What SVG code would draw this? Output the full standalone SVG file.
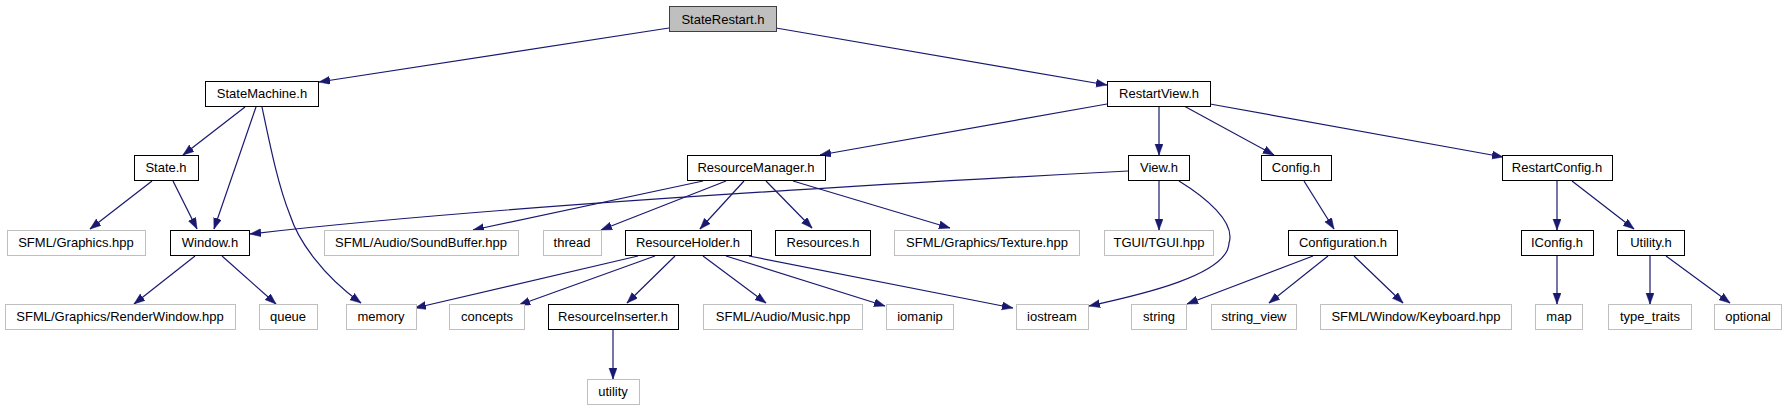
<svg xmlns="http://www.w3.org/2000/svg" width="1787" height="411" viewBox="0 0 1787 411">
<style>
.n rect{fill:#fff;stroke:#000;stroke-width:1}
.s rect{fill:#fff;stroke:#bfbfbf;stroke-width:1}
.r rect{fill:#bfbfbf;stroke:#404040;stroke-width:1}
text{font-family:"Liberation Sans",Arial,sans-serif;font-size:13px;fill:#000;text-anchor:middle}
#edges path{fill:none;stroke:#191970;stroke-width:1.2;marker-end:url(#arr)}
</style>
<defs>
<marker id="arr" markerUnits="userSpaceOnUse" markerWidth="12" markerHeight="9" refX="11" refY="4" orient="auto">
<path d="M0,0 L11,4 L0,8 z" fill="#191970" stroke="#191970" stroke-width="0.5"/>
</marker>
</defs>
<rect width="1787" height="411" fill="#fff"/>
<g id="edges">
<path d="M669,28 L319,82"/>
<path d="M776,28 L1107,85"/>
<path d="M245,107 L183,155"/>
<path d="M256,107 L214,229"/>
<path d="M262,107 C270,145 278,185 290,215 C298,240 322,275 361,303"/>
<path d="M152,181 L90,229"/>
<path d="M173,181 L197,229"/>
<path d="M1128,171 C900,183 500,205 250,234"/>
<path d="M703,181 L473,230"/>
<path d="M726,181 L601,230"/>
<path d="M744,181 L700,229"/>
<path d="M766,181 L812,228"/>
<path d="M793,181 L950,228"/>
<path d="M1107,104 L820,155"/>
<path d="M1159,106 L1159,155"/>
<path d="M1184,106 L1274,155"/>
<path d="M1210,104 L1503,157"/>
<path d="M1159,181 L1159,230"/>
<path d="M1179,181 C1205,197 1236,222 1229,243 C1228,275 1140,295 1089,306"/>
<path d="M638,256 L415,308"/>
<path d="M655,256 L519,305"/>
<path d="M675,256 L627,303"/>
<path d="M703,256 L766,303"/>
<path d="M726,256 L885,306"/>
<path d="M749,256 L1013,308"/>
<path d="M613,330 L613,379"/>
<path d="M195,256 L134,304"/>
<path d="M222,256 L276,304"/>
<path d="M1304,181 L1334,229"/>
<path d="M1557,181 L1557,230"/>
<path d="M1572,181 L1634,229"/>
<path d="M1313,256 L1187,304"/>
<path d="M1328,256 L1269,303"/>
<path d="M1354,256 L1403,303"/>
<path d="M1557,256 L1557,304"/>
<path d="M1650,256 L1650,304"/>
<path d="M1666,256 L1730,303"/>
</g>
<g id="StateRestart" class="r"><rect x="669.5" y="6.5" width="107" height="25"/><text x="723" y="24">StateRestart.h</text></g>
<g id="StateMachine" class="n"><rect x="205.5" y="81.5" width="113" height="25"/><text x="262" y="98">StateMachine.h</text></g>
<g id="RestartView" class="n"><rect x="1107.5" y="81.5" width="103" height="25"/><text x="1159" y="98">RestartView.h</text></g>
<g id="State" class="n"><rect x="134.5" y="155.5" width="64" height="25"/><text x="166" y="172">State.h</text></g>
<g id="ResourceManager" class="n"><rect x="687.5" y="155.5" width="138" height="25"/><text x="756" y="172">ResourceManager.h</text></g>
<g id="View" class="n"><rect x="1128.5" y="155.5" width="61" height="25"/><text x="1159" y="172">View.h</text></g>
<g id="Config" class="n"><rect x="1261.5" y="155.5" width="70" height="25"/><text x="1296" y="172">Config.h</text></g>
<g id="RestartConfig" class="n"><rect x="1502.5" y="155.5" width="110" height="25"/><text x="1557" y="172">RestartConfig.h</text></g>
<g id="SFMLGraphics" class="s"><rect x="7.5" y="230.5" width="138" height="25"/><text x="76" y="247">SFML/Graphics.hpp</text></g>
<g id="Window" class="n"><rect x="170.5" y="230.5" width="79" height="25"/><text x="210" y="247">Window.h</text></g>
<g id="SoundBuffer" class="s"><rect x="324.5" y="230.5" width="194" height="25"/><text x="421" y="247">SFML/Audio/SoundBuffer.hpp</text></g>
<g id="thread" class="s"><rect x="543.5" y="230.5" width="58" height="25"/><text x="572" y="247">thread</text></g>
<g id="ResourceHolder" class="n"><rect x="625.5" y="230.5" width="126" height="25"/><text x="688" y="247">ResourceHolder.h</text></g>
<g id="Resources" class="n"><rect x="775.5" y="230.5" width="95" height="25"/><text x="823" y="247">Resources.h</text></g>
<g id="Texture" class="s"><rect x="894.5" y="230.5" width="185" height="25"/><text x="987" y="247">SFML/Graphics/Texture.hpp</text></g>
<g id="TGUI" class="s"><rect x="1104.5" y="230.5" width="109" height="25"/><text x="1159" y="247">TGUI/TGUI.hpp</text></g>
<g id="Configuration" class="n"><rect x="1288.5" y="230.5" width="109" height="25"/><text x="1343" y="247">Configuration.h</text></g>
<g id="IConfig" class="n"><rect x="1521.5" y="230.5" width="72" height="25"/><text x="1557" y="247">IConfig.h</text></g>
<g id="Utility" class="n"><rect x="1617.5" y="230.5" width="67" height="25"/><text x="1651" y="247">Utility.h</text></g>
<g id="RenderWindow" class="s"><rect x="5.5" y="304.5" width="230" height="25"/><text x="120" y="321">SFML/Graphics/RenderWindow.hpp</text></g>
<g id="queue" class="s"><rect x="259.5" y="304.5" width="58" height="25"/><text x="288" y="321">queue</text></g>
<g id="memory" class="s"><rect x="346.5" y="304.5" width="70" height="25"/><text x="381" y="321">memory</text></g>
<g id="concepts" class="s"><rect x="449.5" y="304.5" width="75" height="25"/><text x="487" y="321">concepts</text></g>
<g id="ResourceInserter" class="n"><rect x="548.5" y="304.5" width="130" height="25"/><text x="613" y="321">ResourceInserter.h</text></g>
<g id="Music" class="s"><rect x="703.5" y="304.5" width="159" height="25"/><text x="783" y="321">SFML/Audio/Music.hpp</text></g>
<g id="iomanip" class="s"><rect x="886.5" y="304.5" width="67" height="25"/><text x="920" y="321">iomanip</text></g>
<g id="iostream" class="s"><rect x="1016.5" y="304.5" width="72" height="25"/><text x="1052" y="321">iostream</text></g>
<g id="string" class="s"><rect x="1131.5" y="304.5" width="55" height="25"/><text x="1159" y="321">string</text></g>
<g id="string_view" class="s"><rect x="1211.5" y="304.5" width="85" height="25"/><text x="1254" y="321">string_view</text></g>
<g id="Keyboard" class="s"><rect x="1320.5" y="304.5" width="191" height="25"/><text x="1416" y="321">SFML/Window/Keyboard.hpp</text></g>
<g id="map" class="s"><rect x="1535.5" y="304.5" width="47" height="25"/><text x="1559" y="321">map</text></g>
<g id="type_traits" class="s"><rect x="1608.5" y="304.5" width="83" height="25"/><text x="1650" y="321">type_traits</text></g>
<g id="optional" class="s"><rect x="1714.5" y="304.5" width="67" height="25"/><text x="1748" y="321">optional</text></g>
<g id="utility" class="s"><rect x="587.5" y="379.5" width="52" height="25"/><text x="613" y="396">utility</text></g>
</svg>
